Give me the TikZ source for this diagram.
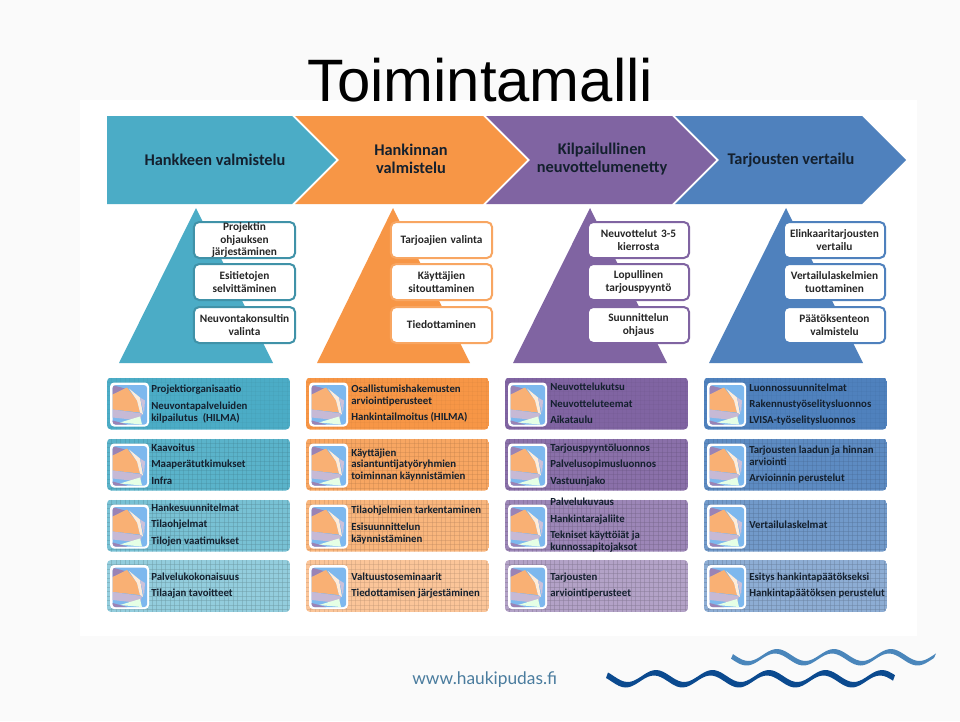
\documentclass[tikz,border=0pt]{standalone}
\usepackage{fontspec}
\setmainfont{Liberation Sans}
\newfontfamily\cardfont{Carlito}
\newfontfamily\urlfont{Lato}
\definecolor{slidebg}{HTML}{FAFAFA}
\definecolor{inkdark}{HTML}{14202E}
\definecolor{tealmain}{HTML}{4BACC6}
\definecolor{orangemain}{HTML}{F79646}
\definecolor{purplemain}{HTML}{8064A2}
\definecolor{bluemain}{HTML}{4F81BD}
\definecolor{sky}{HTML}{7DB8EE}
\definecolor{wavedark}{HTML}{0B4A8F}
\definecolor{wavelight}{HTML}{4A86BB}
\definecolor{urlblue}{HTML}{4A7C9E}
\tikzset{
  headtxt/.style={font=\cardfont\bfseries\fontsize{12.25}{13.6}\selectfont, text=inkdark, align=center},
  smalltxt/.style={font=\cardfont\bfseries\fontsize{8.5}{9.5}\selectfont, text=black!85, align=center,
    rounded corners=4pt, fill=white, line width=1.5pt, minimum width=76pt, minimum height=27pt,
    inner sep=0pt, text width=75pt},
  cardtxt/.style={font=\cardfont\bfseries\fontsize{8.1}{9}\selectfont, text=inkdark, anchor=base west, inner sep=0pt},
}
% one wide card: x, top y, colour, grid strength
\newcommand{\widecard}[4]{
  \begin{scope}
    \clip[rounded corners=3pt] (#1,#2) rectangle ++(183,52);
    \fill[#3] (#1,#2) rectangle ++(183,52);
    \foreach \gridx in {4.5,9,...,183}
      \draw[#3!75!black, line width=0.25pt, opacity=#4] (#1+\gridx,#2) -- ++(0,52);
    \foreach \gridy in {4.5,9,...,52}
      \draw[#3!75!black, line width=0.25pt, opacity=#4] (#1,#2+\gridy) -- ++(183,0);
  \end{scope}
  \begin{scope}[shift={(#1+3,#2+5)}]
    \fill[white, rounded corners=3pt] (0,0) rectangle (39,44);
    \begin{scope}
      \clip[rounded corners=2pt] (2.7,2.7) rectangle (37,42);
      \fill[sky] (0,0) rectangle (39,44);
      \fill[purplemain!80!white] (2.7,2.7) -- (15,6) -- (2.7,12) -- cycle;
      \fill[orangemain!75!white] (2.7,12) -- (17,5) -- (27,18) -- (30,30) -- (2.7,27) -- cycle;
      \fill[orange!15!white] (19,6) -- (30,15) -- (33,32) -- (30,30) -- (27,18) -- cycle;
      \fill[purplemain!40!white] (30,15) -- (35,18) -- (34,31) -- cycle;
      \fill[purplemain!45!white] (2.7,27) -- (32,31) -- (30,38) -- (2.7,35) -- cycle;
      \fill[green!10!white] (10,40) -- (30,34) -- (32,42) -- cycle;
      \fill[purplemain!80!white] (2.7,38) -- (17,42) -- (2.7,42) -- cycle;
    \end{scope}
  \end{scope}
}
\begin{document}
\begin{tikzpicture}[x=0.75pt, y=-0.75pt]
\useasboundingbox (0,0) rectangle (960,721);
\fill[slidebg] (0,0) rectangle (960,721);
\fill[white] (80,100) rectangle (917,636);
\node[font=\fontsize{44.9}{45}\selectfont, anchor=base, inner sep=0pt] (title) at (480,101) {Toimintamalli};

% arrows on top
\fill[tealmain] (107,116) -- (292,116) -- (336,160) -- (292,204) -- (107,204) -- cycle;
\fill[orangemain] (295,116) -- (483,116) -- (527,160) -- (483,204) -- (295,204) -- (339,160) -- cycle;
\fill[purplemain] (486,116) -- (672,116) -- (716,160) -- (672,204) -- (486,204) -- (530,160) -- cycle;
\fill[bluemain] (675,116) -- (862,116) -- (906,160) -- (862,204) -- (675,204) -- (719,160) -- cycle;
\node[headtxt] (head1) at (215,160) {Hankkeen valmistelu};
\node[headtxt] (head2) at (411,159) {Hankinnan\\valmistelu};
\node[headtxt] (head3) at (602,159) {Kilpailullinen\\neuvottelumenetty};
\node[headtxt] (head4) at (791,160) {Tarjousten vertailu};

% triangles
\fill[tealmain] (196,208) -- (273,363) -- (119,363) -- cycle;
\fill[orangemain] (393,208) -- (470,363) -- (317,363) -- cycle;
\fill[purplemain] (590,208) -- (667,363) -- (513,363) -- cycle;
\fill[bluemain] (786,208) -- (863,363) -- (709,363) -- cycle;

% small boxes
\node[smalltxt, draw=tealmain!85!black] (s11) at (244.5,240) {Projektin\\ohjauksen\\järjestäminen};
\node[smalltxt, draw=tealmain!85!black] (s12) at (244.5,282) {Esitietojen\\selvittäminen};
\node[smalltxt, draw=tealmain!85!black] (s13) at (244.5,325) {Neuvontakonsultin\\valinta};
\node[smalltxt, draw=orangemain!85!white] (s21) at (441.5,240) {Tarjoajien valinta};
\node[smalltxt, draw=orangemain!85!white] (s22) at (441.5,282) {Käyttäjien\\sitouttaminen};
\node[smalltxt, draw=orangemain!85!white] (s23) at (441.5,325) {Tiedottaminen};
\node[smalltxt, draw=purplemain] (s31) at (638.5,240) {Neuvottelut 3-5\\kierrosta};
\node[smalltxt, draw=purplemain] (s32) at (638.5,282) {Lopullinen\\tarjouspyyntö};
\node[smalltxt, draw=purplemain] (s33) at (638.5,325) {Suunnittelun\\ohjaus};
\node[smalltxt, draw=bluemain] (s41) at (834.5,240) {Elinkaaritarjousten\\vertailu};
\node[smalltxt, draw=bluemain] (s42) at (834.5,282) {Vertailulaskelmien\\tuottaminen};
\node[smalltxt, draw=bluemain] (s43) at (834.5,325) {Päätöksenteon\\valmistelu};

% wide cards
\widecard{107}{377.5}{tealmain}{0.1}
\widecard{107}{438.5}{tealmain!92!white}{0.3}
\widecard{107}{499.5}{tealmain!75!white}{0.4}
\widecard{107}{560}{tealmain!60!white}{0.45}
\widecard{306}{377.5}{orangemain}{0.1}
\widecard{306}{438.5}{orangemain!85!white}{0.3}
\widecard{306}{499.5}{orangemain!70!white}{0.35}
\widecard{306}{560}{orangemain!55!white}{0.35}
\widecard{505}{377.5}{purplemain}{0.1}
\widecard{505}{438.5}{purplemain!92!white}{0.3}
\widecard{505}{499.5}{purplemain!78!white}{0.4}
\widecard{505}{560}{purplemain!60!white}{0.45}
\widecard{704}{377.5}{bluemain}{0.1}
\widecard{704}{438.5}{bluemain!92!white}{0.3}
\widecard{704}{499.5}{bluemain!80!white}{0.4}
\widecard{704}{560}{bluemain!65!white}{0.45}

% card texts, column by column
\node[cardtxt] (t1a) at (151,392) {Projektiorganisaatio};
\node[cardtxt] (t1b) at (151,409) {Neuvontapalveluiden};
\node[cardtxt] (t1c) at (151,421) {kilpailutus\ \ (HILMA)};
\node[cardtxt] (t1d) at (151,451) {Kaavoitus};
\node[cardtxt] (t1e) at (151,467) {Maaperätutkimukset};
\node[cardtxt] (t1f) at (151,484) {Infra};
\node[cardtxt] (t1g) at (151,511) {Hankesuunnitelmat};
\node[cardtxt] (t1h) at (151,527) {Tilaohjelmat};
\node[cardtxt] (t1i) at (151,544) {Tilojen vaatimukset};
\node[cardtxt] (t1j) at (151,580) {Palvelukokonaisuus};
\node[cardtxt] (t1k) at (151,596) {Tilaajan tavoitteet};

\node[cardtxt] (t2a) at (351,392) {Osallistumishakemusten};
\node[cardtxt] (t2b) at (351,404) {arviointiperusteet};
\node[cardtxt] (t2c) at (351,420) {Hankintailmoitus (HILMA)};
\node[cardtxt] (t2d) at (351,456) {Käyttäjien};
\node[cardtxt] (t2e) at (351,467) {asiantuntijatyöryhmien};
\node[cardtxt] (t2f) at (351,479) {toiminnan käynnistämien};
\node[cardtxt] (t2g) at (351,513) {Tilaohjelmien tarkentaminen};
\node[cardtxt] (t2h) at (351,530) {Esisuunnittelun};
\node[cardtxt] (t2i) at (351,542) {käynnistäminen};
\node[cardtxt] (t2j) at (351,580) {Valtuustoseminaarit};
\node[cardtxt] (t2k) at (351,596) {Tiedottamisen järjestäminen};

\node[cardtxt] (t3a) at (550,390) {Neuvottelukutsu};
\node[cardtxt] (t3b) at (550,407) {Neuvotteluteemat};
\node[cardtxt] (t3c) at (550,423) {Aikataulu};
\node[cardtxt] (t3d) at (550,451) {Tarjouspyyntöluonnos};
\node[cardtxt] (t3e) at (550,467) {Palvelusopimusluonnos};
\node[cardtxt] (t3f) at (550,484) {Vastuunjako};
\node[cardtxt] (t3g) at (550,505) {Palvelukuvaus};
\node[cardtxt] (t3h) at (550,522) {Hankintarajaliite};
\node[cardtxt] (t3i) at (550,538) {Tekniset käyttöiät ja};
\node[cardtxt] (t3j) at (550,550) {kunnossapitojaksot};
\node[cardtxt] (t3k) at (550,580) {Tarjousten};
\node[cardtxt] (t3l) at (550,596) {arviointiperusteet};

\node[cardtxt] (t4a) at (749,391) {Luonnossuunnitelmat};
\node[cardtxt] (t4b) at (749,407) {Rakennustyöselitysluonnos};
\node[cardtxt] (t4c) at (749,423) {LVISA-työselitysluonnos};
\node[cardtxt] (t4d) at (749,453) {Tarjousten laadun ja hinnan};
\node[cardtxt] (t4e) at (749,465) {arviointi};
\node[cardtxt] (t4f) at (749,481) {Arvioinnin perustelut};
\node[cardtxt] (t4g) at (749,528) {Vertailulaskelmat};
\node[cardtxt] (t4h) at (749,580) {Esitys hankintapäätökseksi};
\node[cardtxt] (t4i) at (749,596) {Hankintapäätöksen perustelut};

% footer
\node[font=\urlfont\fontsize{13}{13}\selectfont, text=urlblue, anchor=base west, inner sep=0pt] (url) at (412,684) {www.haukipudas.fi};
\fill[wavedark] plot[smooth, domain=608:895, samples=90] (\x,{676-6*cos(6.37*(\x-656))})
  -- plot[smooth, domain=895:608, samples=90] (\x-2,{681.5-6*cos(6.37*(\x-656))}) -- cycle;
\fill[wavelight] plot[smooth, domain=733:936, samples=70] (\x,{655-6*cos(6.32*(\x-777))})
  -- plot[smooth, domain=936:733, samples=70] (\x-2,{659.5-6*cos(6.32*(\x-777))}) -- cycle;
\end{tikzpicture}
\end{document}
